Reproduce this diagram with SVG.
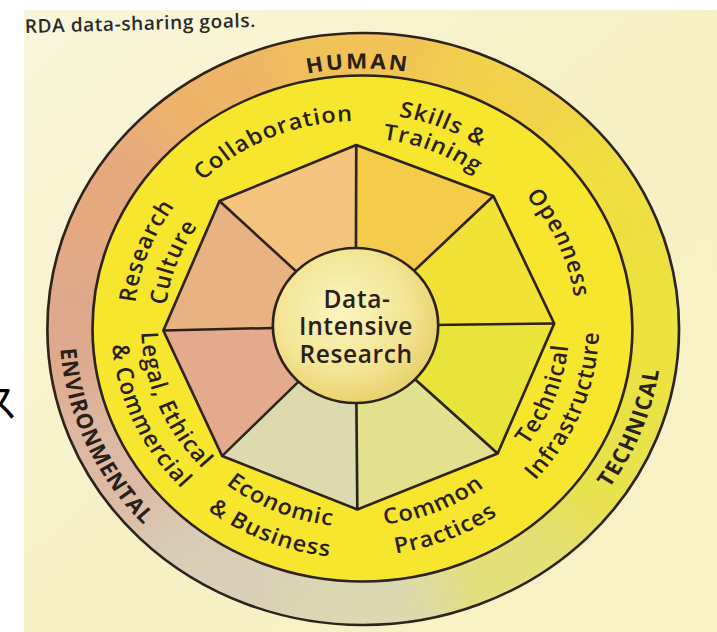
<svg xmlns="http://www.w3.org/2000/svg" width="717" height="632" viewBox="0 0 717 632">
<defs>
<style>
.lbl{font-family:"Open Sans","Liberation Sans",sans-serif;font-weight:600;font-size:22px;fill:#2a2018;letter-spacing:1px}
.out{font-family:"Open Sans","Liberation Sans",sans-serif;font-weight:700;font-size:21px;fill:#2a2018;letter-spacing:1.3px}
.ctr{font-family:"Open Sans","Liberation Sans",sans-serif;font-weight:600;font-size:24.5px;fill:#2a2018;letter-spacing:0.6px;text-anchor:middle}
.ln{fill:none;stroke:#2d231c;stroke-width:2.5;stroke-linejoin:round}
.seg{stroke:none}
</style>
<linearGradient id="page" x1="0" y1="0" x2="1" y2="1">
<stop offset="0" stop-color="#faf6dc"/>
<stop offset="0.5" stop-color="#f7f0c4"/>
<stop offset="1" stop-color="#f8f2c6"/>
</linearGradient>
<radialGradient id="hub" cx="0.42" cy="0.4" r="0.65">
<stop offset="0" stop-color="#fbf4c0"/>
<stop offset="0.6" stop-color="#f3e594"/>
<stop offset="1" stop-color="#e6cf68"/>
</radialGradient>
<clipPath id="outerClip"><circle cx="3" cy="1" r="296"/></clipPath>
<filter id="soft" x="-20%" y="-20%" width="140%" height="140%"><feGaussianBlur stdDeviation="28"/></filter>
<path id="pCollab" d="M-206.5,-26.1 A206,206 0 0 1 122.0,-165.5"/>
<path id="pSkills" d="M-135.2,-168.5 A214,214 0 0 1 209.6,-32.6"/>
<path id="pTrain" d="M-119.7,-148.9 A189,189 0 0 1 184.9,-28.9"/>
<path id="pOpen" d="M19.4,-204.9 A205,205 0 0 1 163.8,119.5"/>
<path id="pTech" d="M29.0,194.6 A198,198 0 0 0 151.9,-125.6"/>
<path id="pInfra" d="M29.5,222.8 A226,226 0 0 0 176.1,-140.1"/>
<path id="pCommon" d="M-124.5,155.8 A199,199 0 0 0 195.1,26.7"/>
<path id="pPract" d="M-143.0,179.5 A229,229 0 0 0 224.8,30.9"/>
<path id="pEcon" d="M-200.3,25.1 A200,200 0 0 0 119.8,157.7"/>
<path id="pBus" d="M-230.8,31.1 A231,231 0 0 0 140.2,181.0"/>
<path id="pLegal" d="M-164.1,-123.2 A203,203 0 0 0 -26.7,200.5"/>
<path id="pComm" d="M-190.1,-135.1 A231,231 0 0 0 -24.1,228.9"/>
<path id="pRes" d="M-165.2,131.2 A210,210 0 0 1 -34.9,-208.4"/>
<path id="pCult" d="M-141.7,114.1 A181,181 0 0 1 -31.9,-179.5"/>
<path id="pHuman" d="M-224.9,-125.6 A260,260 0 0 1 225.4,-133.4"/>
<path id="pTechnical" d="M44.0,278.4 A281,281 0 0 0 222.4,-174.4"/>
<path id="pEnv" d="M-227.3,-166.4 A284,284 0 0 0 -27.2,282.9"/>
</defs>

<rect x="0" y="0" width="717" height="632" fill="#ffffff"/>
<rect x="24" y="10" width="693" height="622" fill="url(#page)"/>
<text x="-22" y="417" font-family="Noto Sans CJK JP, sans-serif" font-size="40" fill="#000">ス</text>
<text x="25" y="33" transform="rotate(-1.5 25 33)" font-family="Open Sans, Liberation Sans, sans-serif" font-weight="600" font-size="19" letter-spacing="0.6" fill="#2a2a2a">RDA data-sharing goals.</text>

<g transform="translate(360,328) scale(1.067,1)">
<g id="outer-ring">
<g clip-path="url(#outerClip)">
<g filter="url(#soft)">
<path fill="#f1c256" d="M0,0 L-93.2,-347.7 L93.2,-347.7Z"/>
<path fill="#f2d24a" d="M0,0 L93.2,-347.7 L254.6,-254.6Z"/>
<path fill="#efdf40" d="M0,0 L254.6,-254.6 L347.7,-93.2Z"/>
<path fill="#ebe33c" d="M0,0 L347.7,-93.2 L347.7,93.2Z"/>
<path fill="#e8e24a" d="M0,0 L347.7,93.2 L254.6,254.6Z"/>
<path fill="#e4df78" d="M0,0 L254.6,254.6 L93.2,347.7Z"/>
<path fill="#dcd8b4" d="M0,0 L93.2,347.7 L-93.2,347.7Z"/>
<path fill="#d9cdb6" d="M0,0 L-93.2,347.7 L-254.6,254.6Z"/>
<path fill="#dcb9a2" d="M0,0 L-254.6,254.6 L-347.7,93.2Z"/>
<path fill="#dea98c" d="M0,0 L-347.7,93.2 L-347.7,-93.2Z"/>
<path fill="#e6a97e" d="M0,0 L-347.7,-93.2 L-254.6,-254.6Z"/>
<path fill="#eeb468" d="M0,0 L-254.6,-254.6 L-93.2,-347.7Z"/>
</g>
</g>
<circle cx="3" cy="1" r="296" class="ln" stroke-width="3"/>
<circle cx="2.3" cy="0.5" r="253" fill="#f6e72e" stroke="#2d231c" stroke-width="2.5"/>
</g>

<g id="segments">
<polygon class="seg" fill="#f5cc4a" points="-4,-2 -3.5,-183 125,-132"/>
<polygon class="seg" fill="#f1e236" points="-4,-2 125,-132 182,-4.5"/>
<polygon class="seg" fill="#e8e43a" points="-4,-2 182,-4.5 129,125.5"/>
<polygon class="seg" fill="#e4e18e" points="-4,-2 129,125.5 -2.5,181.5"/>
<polygon class="seg" fill="#dedab0" points="-4,-2 -2.5,181.5 -129.2,128"/>
<polygon class="seg" fill="#e3aa8e" points="-4,-2 -129.2,128 -184.3,2.5"/>
<polygon class="seg" fill="#e9b283" points="-4,-2 -184.3,2.5 -131.7,-127"/>
<polygon class="seg" fill="#f4c47e" points="-4,-2 -131.7,-127 -3.5,-183"/>
</g>

<g id="connectors">
<polygon class="ln" points="-3.5,-183 125,-132 182,-4.5 129,125.5 -2.5,181.5 -129.2,128 -184.3,2.5 -131.7,-127"/>
<path class="ln" d="M-4,-2 L-3.5,-183 M-4,-2 L125,-132 M-4,-2 L182,-4.5 M-4,-2 L129,125.5 M-4,-2 L-2.5,181.5 M-4,-2 L-129.2,128 M-4,-2 L-184.3,2.5 M-4,-2 L-131.7,-127"/>
</g>

<g id="hub">
<circle cx="-4.2" cy="-2.5" r="77.5" fill="url(#hub)" stroke="#2d231c" stroke-width="2.5"/>
</g>

<g id="label-collaboration"><text class="lbl" text-anchor="middle"><textPath href="#pCollab" startOffset="50%">Collaboration</textPath></text></g>
<g id="label-skills"><text class="lbl" text-anchor="middle"><textPath href="#pSkills" startOffset="50%">Skills &amp;</textPath></text><text class="lbl" text-anchor="middle"><textPath href="#pTrain" startOffset="50%">Training</textPath></text></g>
<g id="label-openness"><text class="lbl" text-anchor="middle"><textPath href="#pOpen" startOffset="50%">Openness</textPath></text></g>
<g id="label-technical-infrastructure"><text class="lbl" text-anchor="middle"><textPath href="#pTech" startOffset="50%">Technical</textPath></text><text class="lbl" text-anchor="middle"><textPath href="#pInfra" startOffset="50%">Infrastructure</textPath></text></g>
<g id="label-common-practices"><text class="lbl" text-anchor="middle"><textPath href="#pCommon" startOffset="50%">Common</textPath></text><text class="lbl" text-anchor="middle"><textPath href="#pPract" startOffset="50%">Practices</textPath></text></g>
<g id="label-economic"><text class="lbl" text-anchor="middle"><textPath href="#pEcon" startOffset="50%">Economic</textPath></text><text class="lbl" text-anchor="middle"><textPath href="#pBus" startOffset="50%">&amp; Business</textPath></text></g>
<g id="label-legal"><text class="lbl" text-anchor="middle"><textPath href="#pLegal" startOffset="50%">Legal, Ethical</textPath></text><text class="lbl" text-anchor="middle"><textPath href="#pComm" startOffset="50%">&amp; Commercial</textPath></text></g>
<g id="label-research-culture"><text class="lbl" text-anchor="middle"><textPath href="#pRes" startOffset="50%">Research</textPath></text><text class="lbl" text-anchor="middle"><textPath href="#pCult" startOffset="50%">Culture</textPath></text></g>

<g id="label-human"><text class="out" text-anchor="middle" style="letter-spacing:2.5px"><textPath href="#pHuman" startOffset="50%">HUMAN</textPath></text></g>
<g id="label-technical"><text class="out" text-anchor="middle"><textPath href="#pTechnical" startOffset="50%">TECHNICAL</textPath></text></g>
<g id="label-environmental"><text class="out" text-anchor="middle" style="letter-spacing:1px"><textPath href="#pEnv" startOffset="50%">ENVIRONMENTAL</textPath></text></g>
</g>

<g id="center-label">
<text class="ctr" x="357" y="308">Data-</text>
<text class="ctr" x="356" y="335">Intensive</text>
<text class="ctr" x="356" y="363">Research</text>
</g>
</svg>
